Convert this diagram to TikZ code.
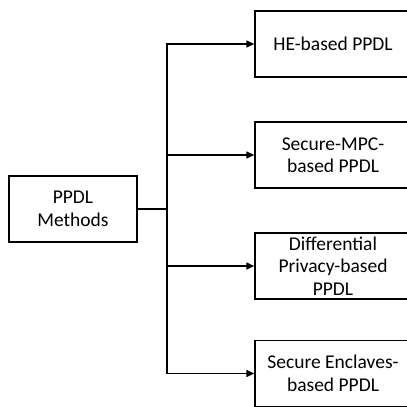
\documentclass[tikz,border=0pt]{standalone}
\usepackage{fontspec}
\setmainfont{Carlito}
\usetikzlibrary{arrows.meta}
\begin{document}
\begin{tikzpicture}[x=1pt,y=-1pt]

\tikzstyle{methodbox} = [draw,line width=1.4pt,minimum width=156pt,minimum height=66pt,inner sep=0pt,align=center,font=\fontsize{19.5}{22.5}\selectfont];
\tikzstyle{rootbox} = [draw,line width=1.4pt,minimum width=128pt,minimum height=66pt,inner sep=0pt,align=center,font=\fontsize{19.5}{23}\selectfont];
\tikzstyle{branch} = [-{Triangle[length=8pt,width=7pt]},line width=1.4pt];

% the boxes on the right run past the edge of the picture
\path[use as bounding box,clip] (0,0) rectangle (407,407);

\node[rootbox] (methods) at (73,209) {PPDL\\Methods};
\node[methodbox] (he) at (333,44) {HE-based PPDL};
\node[methodbox] (mpc) at (333,155) {Secure-MPC-\\based PPDL};
\node[methodbox] (dp) at (333,266) {Differential\\Privacy-based\\PPDL};
\node[methodbox] (sgx) at (333,373.5) {Secure Enclaves-\\based PPDL};

\coordinate (split) at (167,209);

\draw[line width=1.4pt] (methods) -- (split);
\draw[branch] (split) |- (he);
\draw[branch] (split) |- (mpc);
\draw[branch] (split) |- (dp);
\draw[branch] (split) |- (sgx);
\end{tikzpicture}
\end{document}
